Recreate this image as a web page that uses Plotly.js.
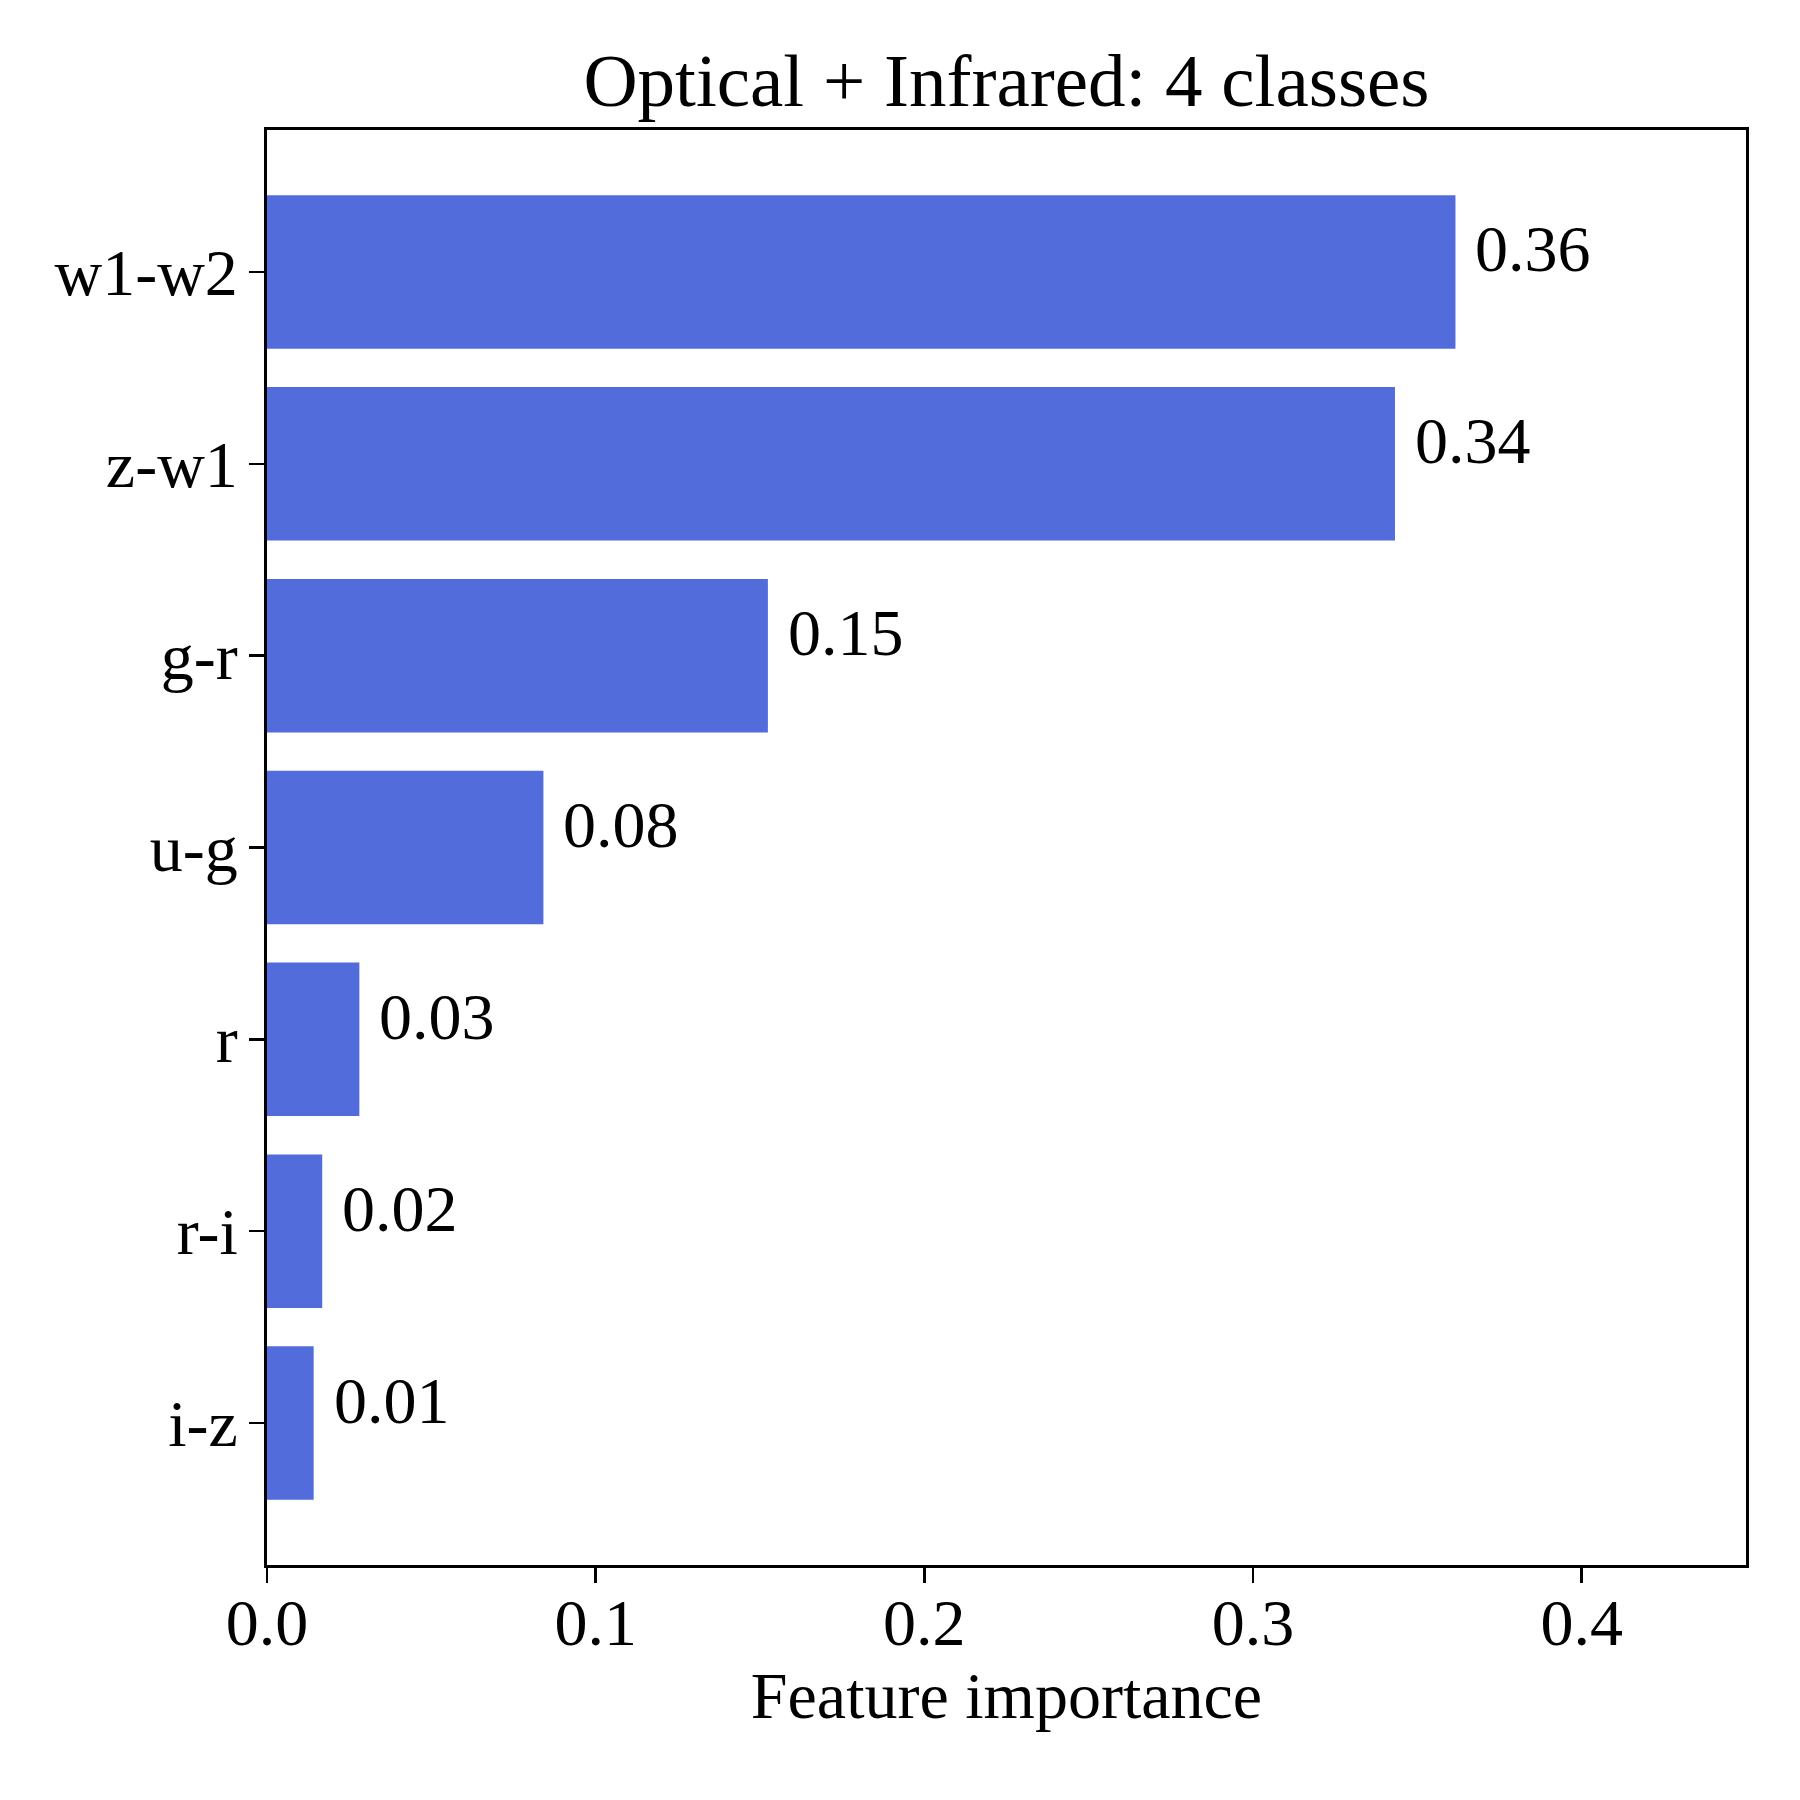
<!DOCTYPE html>
<html>
<head>
<meta charset="utf-8">
<script src="https://cdn.plot.ly/plotly-3.0.1.min.js"></script>
<style>
  html, body { margin: 0; padding: 0; background: #fff; }
  #chart { width: 1800px; height: 1800px; }
</style>
</head>
<body>
<div id="chart"></div>
<script>
// Feature importance, listed top to bottom as in the figure
const features = ['w1-w2', 'z-w1', 'g-r', 'u-g', 'r', 'r-i', 'i-z'];
const importance = [0.3616, 0.3432, 0.1524, 0.0841, 0.0281, 0.0168, 0.0142];
const xTicks = [0.0, 0.1, 0.2, 0.3, 0.4];
const xTickLabels = ['0.0', '0.1', '0.2', '0.3', '0.4'];

const serif = 'Liberation Serif, Times New Roman, serif';
const barColor = 'rgb(82,108,220)';

const trace = {
  type: 'bar',
  orientation: 'h',
  x: importance,
  y: features,
  width: 0.8,
  marker: { color: barColor, line: { width: 0 } },
  hoverinfo: 'skip'
};

// value labels to the right of each bar, baseline on the bar centre
const labels = importance.map((v, i) => ({
  x: v,
  y: features[i],
  xref: 'x',
  yref: 'y',
  text: v.toFixed(2),
  showarrow: false,
  xanchor: 'left',
  yanchor: 'middle',
  xshift: 18,
  yshift: 23,
  font: { family: serif, size: 66, color: '#000' }
}));

const layout = {
  width: 1800,
  height: 1800,
  paper_bgcolor: '#fff',
  plot_bgcolor: '#fff',
  font: { family: serif, size: 66, color: '#000' },
  margin: { l: 267, r: 54, t: 130, b: 235 },
  showlegend: false,
  title: {
    text: 'Optical + Infrared: 4 classes',
    font: { family: serif, size: 75, color: '#000' },
    x: 0.5,
    xref: 'paper',
    xanchor: 'center',
    y: 1,
    yref: 'paper',
    yanchor: 'bottom',
    pad: { b: 24 }
  },
  xaxis: {
    range: [0, 0.45],
    tickmode: 'array',
    tickvals: xTicks,
    ticktext: xTickLabels,
    ticks: 'outside',
    ticklen: 15,
    tickwidth: 2.5,
    tickcolor: '#000',
    ticklabelstandoff: -17,
    showline: true,
    linecolor: '#000',
    linewidth: 3,
    mirror: true,
    showgrid: false,
    zeroline: false,
    tickfont: { family: serif, size: 66, color: '#000' },
    title: {
      text: 'Feature importance',
      font: { family: serif, size: 66, color: '#000' },
      standoff: 10
    }
  },
  yaxis: {
    type: 'category',
    categoryorder: 'array',
    categoryarray: features,
    range: [6.74, -0.74],
    ticks: 'outside',
    ticklen: 15,
    tickwidth: 2.5,
    tickcolor: '#000',
    ticklabelstandoff: -2,
    showline: true,
    linecolor: '#000',
    linewidth: 3,
    mirror: true,
    showgrid: false,
    zeroline: false,
    tickfont: { family: serif, size: 66, color: '#000' }
  },
  annotations: labels
};

Plotly.newPlot('chart', [trace], layout, { displayModeBar: false, staticPlot: true });
</script>
</body>
</html>
